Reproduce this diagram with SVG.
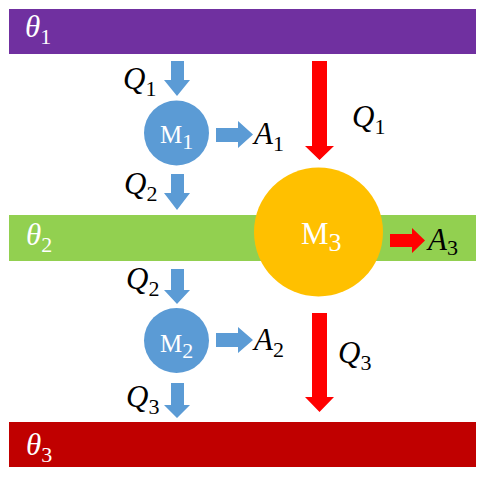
<svg xmlns="http://www.w3.org/2000/svg" width="486" height="477" viewBox="0 0 486 477">
<style>
.m{font-family:"Liberation Serif",serif;font-style:italic;font-size:31px;fill:#000}
.w{fill:#fff}
.s{font-style:normal;font-size:22px}
.u{font-family:"Liberation Serif",serif;font-size:25px;fill:#fff}
.blue{fill:#5B9BD5}
.red{fill:#FF0000}
</style>
<rect width="486" height="477" fill="#fff"/>
<g id="theta1"><rect x="9" y="9" width="467" height="45" fill="#7030A0"/><text class="m w" x="25" y="37">θ<tspan class="s" dy="7">1</tspan></text></g>
<g id="theta2"><rect x="9" y="215" width="467" height="46" fill="#92D050"/><text class="m w" x="26" y="245">θ<tspan class="s" dy="7">2</tspan></text></g>
<g id="theta3"><rect x="9" y="422" width="467" height="45" fill="#C00000"/><text class="m w" x="26" y="455">θ<tspan class="s" dy="7">3</tspan></text></g>
<g id="connectors">
<polygon class="blue" points="171,61 184,61 184,80 190,80 177,96 164,80 171,80"/>
<polygon class="blue" points="171,174 184,174 184,193 190,193 177,210 164,193 171,193"/>
<polygon class="blue" points="171,269 184,269 184,290 190,290 177,304 164,290 171,290"/>
<polygon class="blue" points="171,383 184,383 184,405 190,405 177,418 164,405 171,405"/>
<polygon class="blue" points="216,128 238,128 238,121 253,134.5 238,148 238,142 216,142"/>
<polygon class="blue" points="216,333 238,333 238,327 253,340 238,353 238,347 216,347"/>
<polygon class="red" points="312,61 327,61 327,146 334,146 319.5,160 305,146 312,146"/>
<polygon class="red" points="312,313 327,313 327,397 334,397 319.5,412 305,397 312,397"/>
<polygon class="red" points="390,234 412,234 412,228 425,240.5 412,253 412,247 390,247"/>
<text class="m" x="123" y="89">Q<tspan class="s" dy="7">1</tspan></text>
<text class="m" x="352" y="127">Q<tspan class="s" dy="7">1</tspan></text>
<text class="m" x="124" y="194">Q<tspan class="s" dy="7">2</tspan></text>
<text class="m" x="126" y="289">Q<tspan class="s" dy="7">2</tspan></text>
<text class="m" x="126" y="407">Q<tspan class="s" dy="7">3</tspan></text>
<text class="m" x="338" y="363">Q<tspan class="s" dy="7">3</tspan></text>
<text class="m" x="254" y="144">A<tspan class="s" dy="7">1</tspan></text>
<text class="m" x="254" y="350">A<tspan class="s" dy="7">2</tspan></text>
<text class="m" x="428" y="250">A<tspan class="s" dy="5">3</tspan></text>
</g>
<g id="M1"><circle cx="176.5" cy="133" r="32.5" fill="#5B9BD5"/><text class="u" x="160" y="143">M<tspan class="s" dy="6">1</tspan></text></g>
<g id="M2"><circle cx="176.5" cy="340.5" r="32.5" fill="#5B9BD5"/><text class="u" x="160" y="352">M<tspan class="s" dy="6">2</tspan></text></g>
<g id="M3"><circle cx="318.5" cy="232" r="64.5" fill="#FFC000"/><text class="u" x="301" y="244" style="font-size:31px">M<tspan class="s" dy="7" style="font-size:26px">3</tspan></text></g>
</svg>
